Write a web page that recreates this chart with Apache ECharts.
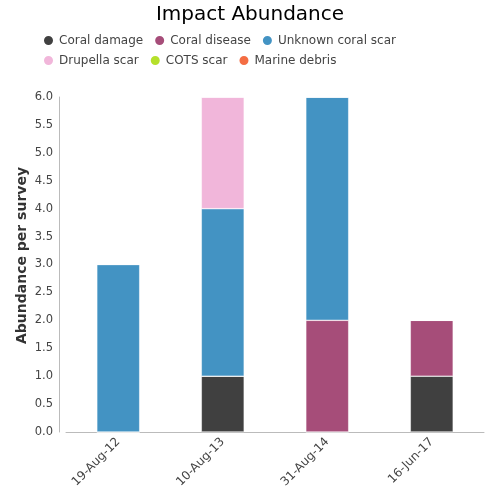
<!DOCTYPE html>
<html><head><meta charset="utf-8">
<script src="https://cdn.jsdelivr.net/npm/echarts@6/dist/echarts.min.js"></script>
<style>html,body{margin:0;padding:0;background:#fff}#c{width:500px;height:500px}</style>
</head><body><div id="c"></div>
<script>
const categories = ['19-Aug-12','10-Aug-13','31-Aug-14','16-Jun-17'];
const seriesNames = ['Coral damage','Coral disease','Unknown coral scar','Drupella scar','COTS scar','Marine debris'];
const coralDamage = [0,1,0,1];
const coralDisease = [0,0,2,1];
const unknownScar = [3,3,4,0];
const drupellaScar = [0,2,0,0];
const cotsScar = [0,0,0,0];
const marineDebris = [0,0,0,0];
const colors = ['#404040','#a64d79','#4393c3','#f1b6da','#b5e02b','#f46d43'];
const values = [coralDamage,coralDisease,unknownScar,drupellaScar,cotsScar,marineDebris];
const font = 'DejaVu Sans';
const legendBase = {left:42,itemWidth:11,itemHeight:11,itemGap:10,icon:'circle',padding:0,
    textStyle:{fontFamily:font,fontSize:12,color:'#444'}};
const chart = echarts.init(document.getElementById('c'));
chart.setOption({
  animation:false,
  color: colors,
  title:{text:'Impact Abundance',left:'center',top:0,textStyle:{fontFamily:font,fontSize:20,fontWeight:'normal',color:'#000'}},
  legend:[Object.assign({top:34,data:seriesNames.slice(0,3)},legendBase),
          Object.assign({top:54,data:seriesNames.slice(3)},legendBase)],
  grid:{left:66,right:16,top:97,bottom:68},
  xAxis:{type:'category',data:categories,
    axisLine:{lineStyle:{color:'#bbb'}},axisTick:{show:false},
    axisLabel:{rotate:45,fontFamily:font,fontSize:12,color:'#444',margin:8}},
  yAxis:{type:'value',min:0,max:6,interval:0.5,offset:7,
    name:'Abundance per survey',nameLocation:'middle',nameGap:37,nameMoveOverlap:false,
    nameTextStyle:{fontFamily:font,fontSize:14,color:'#333',fontWeight:'bold',verticalAlign:'middle',padding:[0,0,0,18]},
    axisLine:{show:true,lineStyle:{color:'#bbb'}},axisTick:{show:false},splitLine:{show:false},
    axisLabel:{fontFamily:font,fontSize:11.5,color:'#444',margin:6,formatter:v=>v.toFixed(1)}},
  series: seriesNames.map((n,i)=>({name:n,type:'bar',stack:'a',barWidth:'41%',data:values[i],
    itemStyle:{color:colors[i],borderColor:'#fff',borderWidth:0.5}}))
});
</script></body></html>
